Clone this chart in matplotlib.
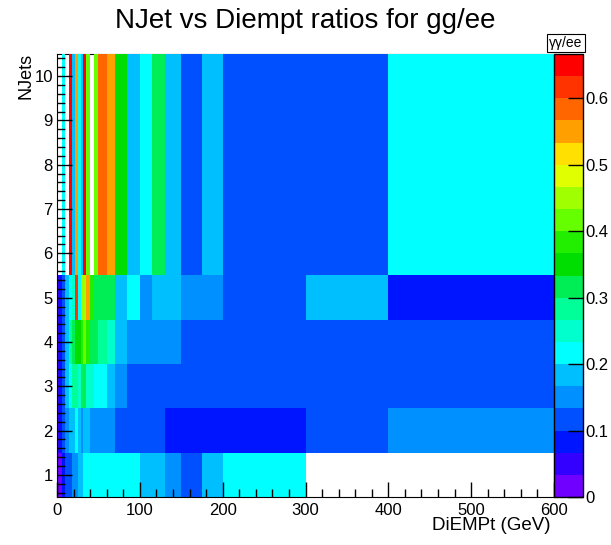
"""NJet vs DiEMPt ratio map (gg/ee)"""

import numpy as np
import matplotlib
matplotlib.use('Agg')
import matplotlib.pyplot as plt
from matplotlib.colors import ListedColormap, BoundaryNorm
from matplotlib.ticker import MultipleLocator

plt.rcParams['font.family'] = ['Liberation Sans', 'DejaVu Sans']

# Variable DiEMPt bin edges (GeV)
pt_edges = [0, 3, 6, 10, 14.5, 18, 22, 25, 29, 31.5, 35, 40, 45, 50, 60, 70, 85,
            100, 115, 130, 150, 175, 200, 300, 400, 600]

# NJet bin edges (last bin holds 6+ jets)
njet_edges = [0.5, 1.5, 2.5, 3.5, 4.5, 5.5, 10.5]

# gg/ee ratio per DiEMPt bin, one list per NJet bin (0 = empty bin)
ratio_nj1 = [0.017, 0.017, 0.083, 0.117, 0.117, 0.15, 0.15, 0.183, 0.183, 0.217, 0.217, 0.217, 0.217,
             0.217, 0.217, 0.217, 0.217, 0.183, 0.183, 0.15, 0.117, 0.183, 0.217, 0, 0]
ratio_nj2 = [0.05, 0.083, 0.117, 0.15, 0.183, 0.183, 0.217, 0.183, 0.15, 0.183, 0.183, 0.15, 0.15,
             0.15, 0.15, 0.117, 0.117, 0.117, 0.117, 0.083, 0.083, 0.083, 0.083, 0.117, 0.15]
ratio_nj3 = [0.05, 0.083, 0.117, 0.183, 0.217, 0.283, 0.283, 0.25, 0.317, 0.317, 0.25, 0.25, 0.217,
             0.217, 0.183, 0.15, 0.117, 0.117, 0.117, 0.117, 0.117, 0.117, 0.117, 0.117, 0.117]
ratio_nj4 = [0.05, 0.083, 0.117, 0.183, 0.283, 0.317, 0.35, 0.35, 0.383, 0.417, 0.383, 0.317, 0.317,
             0.283, 0.25, 0.183, 0.15, 0.15, 0.15, 0.15, 0.117, 0.117, 0.117, 0.117, 0.117]
ratio_nj5 = [0.05, 0.083, 0.117, 0.183, 0.217, 0.25, 0.617, 0.217, 0.45, 0.45, 0.55, 0.383, 0.317,
             0.317, 0.317, 0.183, 0.217, 0.15, 0.183, 0.183, 0.15, 0.15, 0.117, 0.183, 0.083]
ratio_nj6 = [0, 0, 0.217, 0, 0.65, 0.183, 0.55, 0.217, 0.183, 0.65, 0.417, 0, 0.417,
             0.583, 0.55, 0.35, 0.183, 0.217, 0.317, 0.183, 0.117, 0.183, 0.117, 0.117, 0.217]

# ROOT style palette, 20 contour levels
palette = ['#7000ff', '#3300ff', '#0015ff', '#0050ff', '#0090ff', '#00bfff', '#00ffff',
           '#00ffcc', '#00ff99', '#00ee55', '#00dd00', '#22ee00', '#66ff00', '#a0ff00',
           '#e0ff00', '#ffe000', '#ffa000', '#ff6600', '#ff3300', '#ff0000']
z_max = 2 / 3

z = np.array([ratio_nj1, ratio_nj2, ratio_nj3, ratio_nj4, ratio_nj5, ratio_nj6])
z = np.ma.masked_less_equal(z, 0)

cmap = ListedColormap(palette)
norm = BoundaryNorm(np.linspace(0, z_max, len(palette) + 1), cmap.N)

fig = plt.figure(figsize=(6.11, 5.45), dpi=100)
ax = fig.add_axes([57 / 611, 1 - 497 / 545, (554 - 57) / 611, (497 - 54) / 545])
cax = fig.add_axes([554 / 611, 1 - 497 / 545, 29 / 611, (497 - 54) / 545])

mesh = ax.pcolormesh(pt_edges, njet_edges, z, cmap=cmap, norm=norm)
ax.set_xlim(0, 600)
ax.set_ylim(0.5, 10.5)

# Axis ticks, ROOT style (inside)
ax.xaxis.set_major_locator(MultipleLocator(100))
ax.xaxis.set_minor_locator(MultipleLocator(20))
ax.yaxis.set_major_locator(MultipleLocator(1))
ax.yaxis.set_minor_locator(MultipleLocator(0.2))
ax.tick_params(which='both', direction='in', top=False, right=False, labelsize=12, width=1)
ax.tick_params(axis='x', which='major', length=11, pad=4)
ax.tick_params(axis='x', which='minor', length=5.5)
ax.tick_params(axis='y', which='major', length=11, pad=3)
ax.tick_params(axis='y', which='minor', length=5.5)
for side in ['top', 'right']:
    ax.spines[side].set_zorder(0.5)
    ax.spines[side].set_linewidth(0.8)

# Colour scale
cb = fig.colorbar(mesh, cax=cax, ticks=np.arange(0, 0.61, 0.1))
cb.ax.set_yticklabels(['0', '0.1', '0.2', '0.3', '0.4', '0.5', '0.6'])
cb.ax.tick_params(direction='in', length=11, labelsize=12, pad=2, width=1)
cb.ax.minorticks_off()
cb.outline.set_linewidth(1)

# Titles
fig.text(0.5, 1 - 21 / 545, 'NJet vs Diempt ratios for gg/ee', ha='center', va='center', fontsize=20)
fig.text(26 / 611, 1 - 53 / 545, 'NJets', rotation=90, ha='center', va='top', fontsize=13)
fig.text(550 / 611, 1 - 526 / 545, 'DiEMPt (GeV)', ha='right', va='center', fontsize=13.5)
fig.text(566 / 611, 1 - 43 / 545, 'γγ/ee', ha='center', va='center', fontsize=10,
         bbox=dict(boxstyle='square,pad=0.15', facecolor='white', edgecolor='black', linewidth=0.8))

fig.savefig('out.png', dpi=100)
